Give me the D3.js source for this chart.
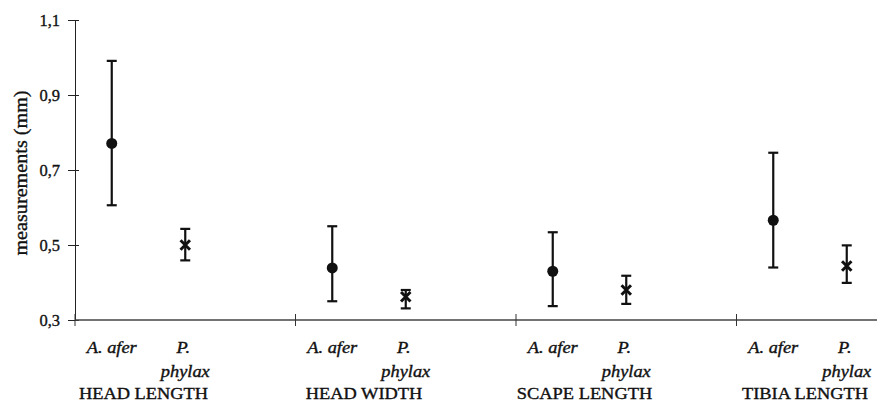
<!DOCTYPE html>
<html>
<head>
<meta charset="utf-8">
<script src="https://cdn.jsdelivr.net/npm/d3@7"></script>
<style>
  html, body { margin: 0; padding: 0; background: #fff; }
  svg { display: block; }
  text { font-family: "Liberation Serif", "Times New Roman", serif; fill: #111; stroke: #111; stroke-width: 0.35px; }
</style>
</head>
<body>
<svg id="chart" width="877" height="402"></svg>
<script>
// ---- data ----
const groups = ["HEAD LENGTH", "HEAD WIDTH", "SCAPE LENGTH", "TIBIA LENGTH"];
const species = ["A. afer", "P. phylax"];
const slots = ["A. afer", "P. phylax", ""];
const aferMean  = [0.771, 0.439, 0.430, 0.566];
const aferLow   = [0.606, 0.350, 0.337, 0.440];
const aferHigh  = [0.991, 0.550, 0.534, 0.746];
const phylaxMean = [0.500, 0.362, 0.380, 0.444];
const phylaxLow  = [0.459, 0.331, 0.343, 0.399];
const phylaxHigh = [0.543, 0.380, 0.418, 0.499];
const yTicks = [0.3, 0.5, 0.7, 0.9, 1.1];
const yTitle = "measurements (mm)";

// ---- build rows ----
const rows = [];
groups.forEach((g, i) => {
  rows.push({ group: g, sp: "A. afer", mean: aferMean[i], lo: aferLow[i], hi: aferHigh[i] });
  rows.push({ group: g, sp: "P. phylax", mean: phylaxMean[i], lo: phylaxLow[i], hi: phylaxHigh[i] });
});

const svg = d3.select("#chart");
const x0 = 75, plotTop = 20, plotBottom = 320;
const groupW = 220.5;

const xg = d3.scaleBand().domain(groups).range([x0, x0 + groups.length * groupW]).padding(0);
const xi = d3.scaleBand().domain(slots).range([0, xg.bandwidth()]).padding(0);
const y = d3.scaleLinear().domain([0.3, 1.1]).range([plotBottom, plotTop]);
const cx = d => xg(d.group) + xi(d.sp) + xi.bandwidth() / 2;

// ---- y axis ----
const yAxis = d3.axisLeft(y).tickValues(yTicks)
  .tickFormat(d => d3.format(".1f")(d).replace(".", ","))
  .tickSizeInner(7).tickSizeOuter(0).tickPadding(8);
const ya = svg.append("g").attr("transform", `translate(${x0},0)`).call(yAxis);
ya.attr("font-family", null);
ya.select(".domain").attr("stroke", "#222").attr("stroke-width", 1);
ya.selectAll(".tick line").attr("stroke", "#222").attr("x2", 4).attr("x1", -7);
ya.selectAll(".tick text").attr("font-size", 16.5).attr("fill", "#111")
  .attr("font-family", "Liberation Serif");

// ---- x axis ----
const xEdges = groups.map(g => xg(g)).concat([xg.range()[1]]);
const xa = svg.append("g");
xa.append("line").attr("x1", x0).attr("x2", xg.range()[1])
  .attr("y1", y(0.3)).attr("y2", y(0.3))
  .attr("stroke", "#444").attr("stroke-width", 1.5);
xa.selectAll("line.tk").data(xEdges).join("line").attr("class", "tk")
  .attr("x1", d => d).attr("x2", d => d)
  .attr("y1", y(0.3) - 6).attr("y2", y(0.3) + 6)
  .attr("stroke", "#333").attr("stroke-width", 1);

// category labels
const fs = 16, sx = 1.15;
const catG = svg.append("g");
rows.forEach(d => {
  const x = cx(d);
  if (d.sp === "A. afer") {
    catG.append("text").attr("transform", `translate(${x},353) scale(${sx},1)`)
      .attr("text-anchor", "middle").attr("font-size", fs).attr("font-style", "italic")
      .text("A. afer");
  } else {
    catG.append("text").attr("transform", `translate(${x - 2},353) scale(${sx},1)`)
      .attr("text-anchor", "middle").attr("font-size", fs).attr("font-style", "italic")
      .text("P.");
    catG.append("text").attr("transform", `translate(${x},377) scale(${sx},1)`)
      .attr("text-anchor", "middle").attr("font-size", fs).attr("font-style", "italic")
      .text("phylax");
  }
});
// group labels
groups.forEach(g => {
  const c = xg(g) + (xi("A. afer") + xi("P. phylax")) / 2 + xi.bandwidth() / 2;
  svg.append("text").attr("transform", `translate(${c - 5},399) scale(${sx},1)`)
    .attr("text-anchor", "middle").attr("font-size", fs).text(g);
});

// y title
svg.append("text").attr("transform", `translate(27,173) rotate(-90) scale(1.12,1)`)
  .attr("text-anchor", "middle").attr("font-size", 18).text(yTitle);

// ---- error bars ----
const eb = svg.append("g");
const capW = 5;
eb.selectAll("line.v").data(rows).join("line").attr("class", "v")
  .attr("x1", cx).attr("x2", cx).attr("y1", d => y(d.lo)).attr("y2", d => y(d.hi))
  .attr("stroke", "#111").attr("stroke-width", 2.2);
eb.selectAll("line.ct").data(rows).join("line").attr("class", "ct")
  .attr("x1", d => cx(d) - capW).attr("x2", d => cx(d) + capW)
  .attr("y1", d => y(d.hi)).attr("y2", d => y(d.hi))
  .attr("stroke", "#111").attr("stroke-width", 2.2);
eb.selectAll("line.cb").data(rows).join("line").attr("class", "cb")
  .attr("x1", d => cx(d) - capW).attr("x2", d => cx(d) + capW)
  .attr("y1", d => y(d.lo)).attr("y2", d => y(d.lo))
  .attr("stroke", "#111").attr("stroke-width", 2.2);

// ---- markers ----
svg.selectAll("circle.afer").data(rows.filter(d => d.sp === "A. afer")).join("circle")
  .attr("class", "afer").attr("cx", cx).attr("cy", d => y(d.mean)).attr("r", 5.5)
  .attr("fill", "#111");
const cross = d3.symbol().type(d3.symbolX).size(60);
svg.selectAll("path.phylax").data(rows.filter(d => d.sp === "P. phylax")).join("path")
  .attr("class", "phylax")
  .attr("transform", d => `translate(${cx(d)},${y(d.mean)})`)
  .attr("d", cross).attr("fill", "none").attr("stroke", "#111").attr("stroke-width", 3);
</script>
</body>
</html>
